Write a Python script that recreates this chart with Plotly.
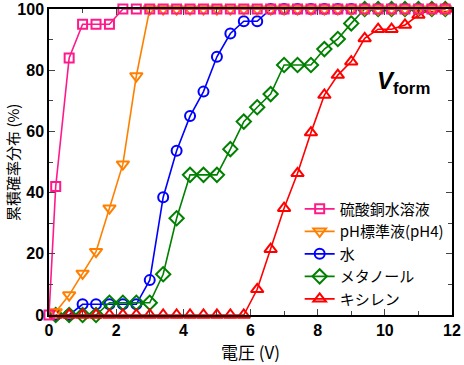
import plotly.graph_objects as go

voltage = [round(0.2 + 0.4 * k, 1) for k in range(30)]

cuso4_x = [0.0] + voltage
cuso4 = [0, 42, 84, 95, 95, 95] + [100] * 25
ph4 = [1, 6.5, 13.6, 20.7, 34.9, 49.3, 78.1, 100] + [100] * 22
water = [0, 0, 3.5, 3.5, 3.5, 3.5, 3.5, 11.4, 38.5, 53.7, 65, 73, 84.4, 92, 96, 96] + [100] * 14
methanol = [0, 0, 0, 0, 4, 4, 4, 4, 13.3, 31.6, 45.8, 45.8, 45.8, 54.2, 63.2, 67.9,
            72.2, 81.7, 81.7, 81.7, 86.9, 90.2, 95.3] + [100] * 7
xylene = [0] * 15 + [8.4, 21.5, 34.9, 46.3, 59.6, 71.9, 78.4, 82.8, 90.4, 93.4, 93.4,
                     94.8, 98, 100, 100]

names = ["硫酸銅水溶液", "pH標準液(pH4)", "水", "メタノール", "キシレン"]
colors = ["#FF1A8C", "#FF8000", "#0000FF", "#008000", "#FF0000"]
symbols = ["square-open", "triangle-down-open", "circle-open", "diamond-open", "triangle-up-open"]
sizes = [9, 11, 10, 11, 11]
xs = [cuso4_x, voltage, voltage, voltage, voltage]
ys = [cuso4, ph4, water, methanol, xylene]
draw_order = [2, 3, 4, 1, 0]  # bottom to top

fig = go.Figure()
for i in draw_order:
    c = colors[i]
    fig.add_trace(go.Scatter(
        x=xs[i], y=ys[i], name=names[i], mode="lines+markers", legendrank=i + 1,
        line=dict(color=c, width=1.6),
        marker=dict(symbol=symbols[i], size=sizes[i], color=c, line=dict(color=c, width=2)),
        cliponaxis=False,
    ))

tickfont = dict(family="Liberation Sans", size=16, color="black", weight="bold")
fig.update_xaxes(
    range=[0, 12], tickvals=[0, 2, 4, 6, 8, 10, 12], ticks="inside", ticklen=6,
    tickwidth=1, tickcolor="#444", showline=True, linecolor="black", linewidth=1.5,
    mirror="allticks", showgrid=False, zeroline=False, tickfont=tickfont, automargin=False,
    minor=dict(tickvals=[1, 3, 5, 7, 9, 11], ticks="inside", ticklen=4, tickcolor="#444"),
)
fig.update_yaxes(
    range=[0, 100], tickvals=[0, 20, 40, 60, 80, 100], ticks="inside", ticklen=6,
    tickwidth=1, tickcolor="#444", showline=True, linecolor="black", linewidth=1.5,
    mirror="allticks", showgrid=False, zeroline=False, tickfont=tickfont, automargin=False,
    minor=dict(tickvals=[10, 30, 50, 70, 90], ticks="inside", ticklen=4, tickcolor="#444"),
)

fig.add_annotation(
    x=0.5, y=-0.12, xref="paper", yref="paper", yanchor="middle", showarrow=False,
    text="電圧 (V)", font=dict(family="Noto Sans CJK JP", size=17, color="black"),
)
fig.add_annotation(
    x=-0.092, y=0.5, xref="paper", yref="paper", xanchor="center", showarrow=False,
    text="累積確率分布 (%)", textangle=-90,
    font=dict(family="Noto Sans CJK JP", size=15, color="black"),
)
fig.add_annotation(
    x=10.55, y=76, xref="x", yref="y", showarrow=False,
    text="<b><i>V</i></b><sub><b>form</b></sub>",
    font=dict(family="Liberation Sans", size=24, color="black"),
)

fig.update_layout(
    width=464, height=365,
    margin=dict(l=49, r=12, t=9, b=50),
    paper_bgcolor="white", plot_bgcolor="white",
    showlegend=True,
    legend=dict(x=0.622, y=0.4, xanchor="left", yanchor="top", traceorder="normal",
                bgcolor="rgba(0,0,0,0)", font=dict(family="Noto Sans CJK JP", size=15, color="black"),
                tracegroupgap=0, itemwidth=30),
)

fig.write_html("out.html", config={"displayModeBar": False},
               post_script="document.body.style.margin='0';")
